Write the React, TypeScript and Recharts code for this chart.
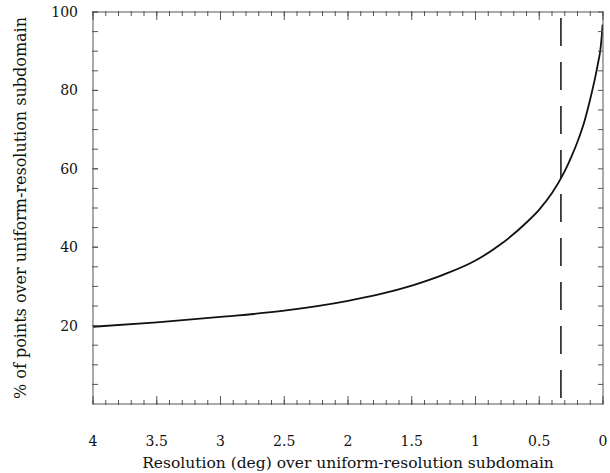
import { Label, Line, LineChart, ReferenceLine, XAxis, YAxis } from "recharts";

// resolution (deg) and % of points over the uniform-resolution subdomain
const resolution = [4, 3.5, 3, 2.5, 2, 1.75, 1.5, 1.25, 1, 0.8, 0.6, 0.5, 0.4, 0.3, 0.25, 0.2, 0.15, 0.1, 0.06, 0.04, 0.02, 0.01, 0.003];
const percent = [19.7, 20.8, 22.2, 23.8, 26.3, 28.0, 30.2, 33.0, 36.6, 40.8, 46.3, 49.6, 53.8, 59.4, 62.9, 66.9, 71.6, 77.8, 83.5, 86.8, 90.5, 93.8, 96.8];

const cutoff = 0.33;
const cutoffTop = 98.5;
const cutoffBottom = 1;

const xMajorTicks = [0, 0.5, 1, 1.5, 2, 2.5, 3, 3.5, 4];
const xMinorTicks = [
  0, 0.1, 0.2, 0.3, 0.4, 0.5, 0.6, 0.7, 0.8, 0.9, 1, 1.1, 1.2, 1.3, 1.4, 1.5, 1.6, 1.7, 1.8, 1.9, 2,
  2.1, 2.2, 2.3, 2.4, 2.5, 2.6, 2.7, 2.8, 2.9, 3, 3.1, 3.2, 3.3, 3.4, 3.5, 3.6, 3.7, 3.8, 3.9, 4,
];
const yLabelTicks = [20, 40, 60, 80, 100];
const yMinorTicks = [5, 10, 15, 20, 25, 30, 35, 40, 45, 50, 55, 60, 65, 70, 75, 80, 85, 90, 95, 100];

const data = resolution.map((x, i) => ({ x, y: percent[i] }));

const font = "DejaVu Serif";
const ink = "#111";
const frame = "#555";
const tickFont = { fontSize: 14, fill: ink, fontFamily: font };
const blank = () => "";

function XTitle(props: any) {
  const vb = props.viewBox || { x: 93, y: 404, width: 510 };
  return (
    <text x={vb.x + vb.width / 2} y={468} textAnchor="middle" fontSize={15.5} fill={ink} fontFamily={font}>
      Resolution (deg) over uniform-resolution subdomain
    </text>
  );
}

function YTitle(props: any) {
  const vb = props.viewBox || { y: 13, height: 391 };
  const cy = vb.y + vb.height / 2;
  return (
    <text
      x={26}
      y={cy}
      transform={`rotate(-90, 26, ${cy})`}
      textAnchor="middle"
      fontSize={16}
      fill={ink}
      fontFamily={font}
    >
      % of points over uniform-resolution subdomain
    </text>
  );
}

export default function App() {
  return (
    <div style={{ position: "absolute", left: 0, top: 0, background: "#fff" }}>
      <LineChart width={610} height={473} data={data} margin={{ top: 10, right: 6, bottom: 67, left: 91 }}>
        <XAxis
          xAxisId="b"
          dataKey="x"
          type="number"
          domain={[0, 4]}
          reversed
          allowDataOverflow
          ticks={xMajorTicks}
          interval={0}
          height={1}
          tickSize={-8}
          tickMargin={40}
          tick={tickFont}
          stroke={frame}
          tickFormatter={(v) => String(v)}
        >
          <Label content={XTitle} />
        </XAxis>
        <XAxis
          xAxisId="bm"
          dataKey="x"
          type="number"
          domain={[0, 4]}
          reversed
          allowDataOverflow
          ticks={xMinorTicks}
          interval={0}
          height={1}
          tickSize={-5}
          axisLine={false}
          stroke={frame}
          tickFormatter={blank}
        />
        <XAxis
          xAxisId="t"
          orientation="top"
          dataKey="x"
          type="number"
          domain={[0, 4]}
          reversed
          allowDataOverflow
          ticks={xMajorTicks}
          interval={0}
          height={1}
          tickSize={-8}
          stroke={frame}
          tickFormatter={blank}
        />
        <XAxis
          xAxisId="tm"
          orientation="top"
          dataKey="x"
          type="number"
          domain={[0, 4]}
          reversed
          allowDataOverflow
          ticks={xMinorTicks}
          interval={0}
          height={1}
          tickSize={-5}
          axisLine={false}
          stroke={frame}
          tickFormatter={blank}
        />
        <YAxis
          yAxisId="l"
          type="number"
          domain={[0, 100]}
          allowDataOverflow
          ticks={yLabelTicks}
          interval={0}
          width={1}
          tickSize={-5}
          tickMargin={20}
          tick={tickFont}
          stroke={frame}
        >
          <Label content={YTitle} />
        </YAxis>
        <YAxis
          yAxisId="lm"
          type="number"
          domain={[0, 100]}
          allowDataOverflow
          ticks={yMinorTicks}
          interval={0}
          width={1}
          tickSize={-6}
          axisLine={false}
          stroke={frame}
          tickFormatter={blank}
        />
        <YAxis
          yAxisId="r"
          orientation="right"
          type="number"
          domain={[0, 100]}
          allowDataOverflow
          ticks={yMinorTicks}
          interval={0}
          width={1}
          tickSize={-5}
          stroke={frame}
          tickFormatter={blank}
        />
        <ReferenceLine
          xAxisId="b"
          yAxisId="l"
          segment={[
            { x: cutoff, y: cutoffTop },
            { x: cutoff, y: cutoffBottom },
          ]}
          stroke={ink}
          strokeWidth={1.5}
          strokeDasharray="28 16"
        />
        <Line
          xAxisId="b"
          yAxisId="l"
          type="monotone"
          dataKey="y"
          stroke={ink}
          strokeWidth={1.8}
          dot={false}
          isAnimationActive={false}
        />
      </LineChart>
    </div>
  );
}
